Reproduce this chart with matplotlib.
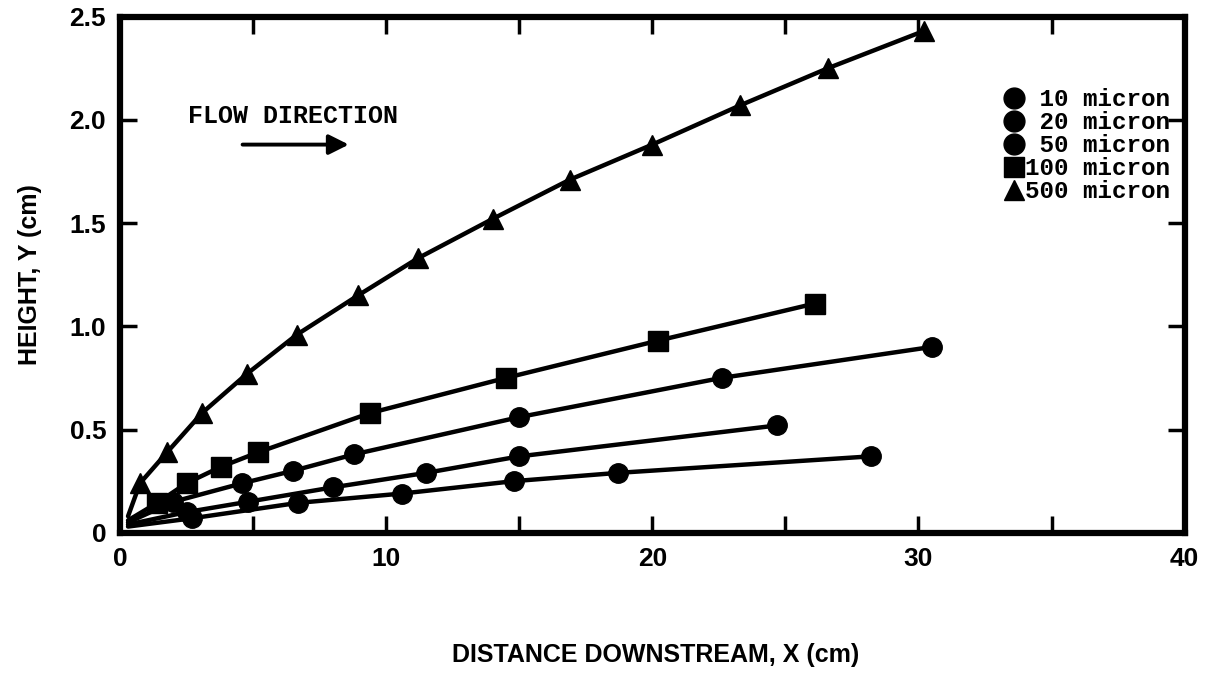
import matplotlib.pyplot as plt
from matplotlib.lines import Line2D

# particle trajectories, x downstream (cm) vs height y (cm)
# first entry of each series is the release point (no marker)
x10 = [0.3, 2.7, 6.7, 10.6, 14.8, 18.7, 28.2]
y10 = [0.03, 0.07, 0.145, 0.19, 0.25, 0.29, 0.37]

x20 = [0.3, 2.5, 4.8, 8.0, 11.5, 15.0, 24.7]
y20 = [0.04, 0.10, 0.15, 0.22, 0.29, 0.37, 0.52]

x50 = [0.3, 2.0, 4.6, 6.5, 8.8, 15.0, 22.6, 30.5]
y50 = [0.05, 0.15, 0.24, 0.30, 0.38, 0.56, 0.75, 0.90]

x100 = [0.3, 1.4, 2.5, 3.8, 5.2, 9.4, 14.5, 20.2, 26.1]
y100 = [0.06, 0.145, 0.24, 0.32, 0.39, 0.58, 0.75, 0.93, 1.11]

x500 = [0.3, 0.75, 1.77, 3.08, 4.77, 6.65, 8.95, 11.2, 14.0, 16.9, 20.0, 23.3, 26.6, 30.2]
y500 = [0.08, 0.24, 0.39, 0.58, 0.77, 0.96, 1.15, 1.33, 1.52, 1.71, 1.88, 2.07, 2.25, 2.43]

labels = [' 10 micron', ' 20 micron', ' 50 micron', '100 micron', '500 micron']
markers = ['o', 'o', 'o', 's', '^']
xticks = [0, 10, 20, 30, 40]
yticks = [0, 0.5, 1.0, 1.5, 2.0, 2.5]
yticklabels = ['0', '0.5', '1.0', '1.5', '2.0', '2.5']

plt.rcParams['font.family'] = ['Liberation Sans', 'DejaVu Sans']
plt.rcParams['font.weight'] = 'bold'
mono = ['Liberation Mono', 'DejaVu Sans Mono']

fig = plt.figure(figsize=(12.25, 6.91), dpi=100)
ax = fig.add_axes([0.098, 0.229, 0.869, 0.747])

series = [(x10, y10), (x20, y20), (x50, y50), (x100, y100), (x500, y500)]
sizes = [14, 14, 14, 14, 15]
for (xs, ys), m, ms in zip(series, markers, sizes):
    ax.plot(xs, ys, color='k', lw=3.2, marker=m, ms=ms, markevery=slice(1, None),
            solid_capstyle='round', solid_joinstyle='round')

ax.set_xlim(0, 40)
ax.set_ylim(0, 2.5)
ax.set_xticks(xticks)
ax.set_xticks([5, 15, 25, 35], minor=True)
ax.set_yticks(yticks)
ax.set_yticklabels(yticklabels)
ax.tick_params(which='both', direction='in', top=True, right=True,
               width=2.5, length=12, labelsize=19, pad=10)
for s in ax.spines.values():
    s.set_linewidth(4.5)

fig.text(0.535, 0.052, 'DISTANCE DOWNSTREAM, X (cm)',
         fontsize=18, fontweight='bold', ha='center', va='center')
ax.set_ylabel('HEIGHT, Y (cm)', fontsize=18, fontweight='bold', labelpad=20)

ax.text(2.55, 2.02, 'FLOW DIRECTION', family=mono,
        fontsize=18, va='center')
ax.annotate('', xy=(8.7, 1.88), xytext=(4.5, 1.88),
            arrowprops=dict(arrowstyle='-|>', lw=2.8, color='k', mutation_scale=30))

handles = [Line2D([], [], color='k', ls='none', marker=m, ms=15) for m in markers]
leg = ax.legend(handles, labels, loc='upper right', bbox_to_anchor=(0.995, 0.88),
                frameon=False, handlelength=0.8, handletextpad=0.05,
                labelspacing=0.0, borderaxespad=0,
                prop={'family': mono, 'weight': 'bold', 'size': 17.5})

fig.savefig('out.png', dpi=100)
